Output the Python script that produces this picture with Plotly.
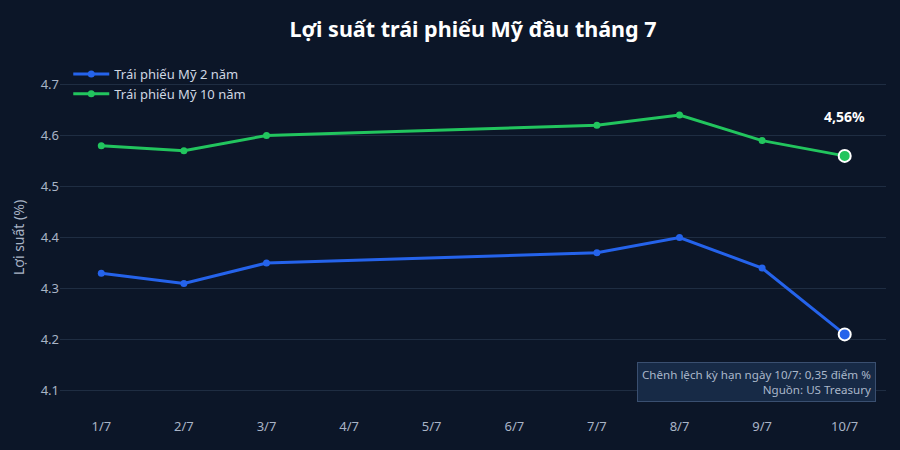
import plotly.graph_objects as go

dates = ["1/7", "2/7", "3/7", "4/7", "5/7", "6/7", "7/7", "8/7", "9/7", "10/7"]
y2 = [4.33, 4.31, 4.35, None, None, None, 4.37, 4.40, 4.34, 4.21]
y10 = [4.58, 4.57, 4.60, None, None, None, 4.62, 4.64, 4.59, 4.56]
name2 = "Trái phiếu Mỹ 2 năm"
name10 = "Trái phiếu Mỹ 10 năm"
title = "Lợi suất trái phiếu Mỹ đầu tháng 7"
ytitle = "Lợi suất (%)"
last_label = "4,56%"
note = "Chênh lệch kỳ hạn ngày 10/7: 0,35 điểm %<br>Nguồn: US Treasury"

BLUE = "#2563eb"
GREEN = "#22c55e"
BG = "#0c1628"
FONT = "Noto Sans"

fig = go.Figure()
for name, ys, col in [(name2, y2, BLUE), (name10, y10, GREEN)]:
    fig.add_trace(go.Scatter(
        x=dates, y=ys, name=name, mode="lines+markers", connectgaps=True,
        line=dict(color=col, width=3), marker=dict(size=7, color=col),
    ))
    fig.add_trace(go.Scatter(
        x=[dates[-1]], y=[ys[-1]], mode="markers", showlegend=False, hoverinfo="skip",
        marker=dict(size=12, color=col, line=dict(color="white", width=2)),
    ))

fig.add_annotation(x=dates[-1], y=y10[-1], text="<b>" + last_label + "</b>", showarrow=False,
                   yshift=39, font=dict(color="white", size=14, family=FONT))
fig.add_annotation(xref="paper", yref="paper", x=1, y=0.04, xanchor="right", yanchor="bottom",
                   xshift=-10, text=note, showarrow=False, align="right",
                   font=dict(color="#aab7ca", size=11.6, family=FONT),
                   bgcolor="#172a46", bordercolor="#3a4f70", borderwidth=1, borderpad=4)

fig.update_layout(
    width=900, height=450, paper_bgcolor=BG, plot_bgcolor=BG,
    margin=dict(l=60, r=14, t=59, b=34),
    font=dict(family=FONT, color="#a9b4c6", size=13),
    title=dict(text="<b>" + title + "</b>", x=0.5, xref="paper", xanchor="center",
               y=1 - 29 / 450, yref="container", yanchor="middle",
               font=dict(size=21.5, color="white", family=FONT)),
    legend=dict(x=0.01, y=1.0, xanchor="left", yanchor="top", bgcolor="rgba(0,0,0,0)",
                font=dict(size=13, color="#d0d7e2"), tracegroupgap=0, itemwidth=36),
    showlegend=True,
)
fig.update_xaxes(type="category", range=[-0.5, len(dates) - 0.5], showgrid=False,
                 zeroline=False, showline=False,
                 tickfont=dict(size=13, color="#a9b4c6"), ticks="", ticklabelstandoff=1,
                 automargin=False)
fig.update_yaxes(range=[4.05, 4.75], dtick=0.1, tick0=4.1, gridcolor="#1f2d42", zeroline=False,
                 showline=False, tickfont=dict(size=13, color="#a9b4c6"), automargin=False,
                 title=dict(text=ytitle, font=dict(size=14, color="#a9b4c6"), standoff=12))

fig.write_html("out.html")
